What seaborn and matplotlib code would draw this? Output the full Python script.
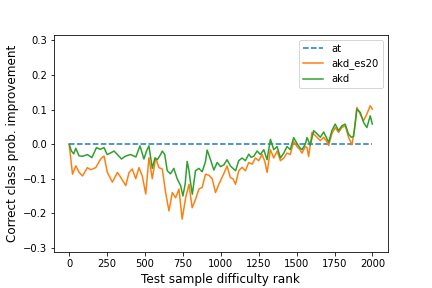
import numpy as np
import matplotlib
matplotlib.use("Agg")
import matplotlib.pyplot as plt
import seaborn as sns
import pandas as pd

# values (rank -> improvement)
rank_akd = [0, 15, 30, 44, 65, 90, 120, 150, 180, 205, 230, 250, 275, 296, 318,
            345, 370, 405, 440, 467, 493, 510, 526, 548, 565, 581, 603, 614, 630,
            647, 668, 690, 712, 735, 750, 765, 778, 790, 800, 812, 833, 855, 877,
            899, 910, 932, 954, 976, 998, 1020, 1041, 1063, 1080, 1097, 1118, 1140,
            1162, 1184, 1200, 1217, 1239, 1261, 1283, 1305, 1327, 1349, 1371, 1393,
            1415, 1436, 1458, 1480, 1502, 1520, 1535, 1557, 1568, 1590, 1612, 1634,
            1656, 1678, 1695, 1711, 1732, 1754, 1776, 1798, 1820, 1842, 1860, 1875,
            1886, 1897, 1919, 1941, 1963, 1985, 1999]
akd = [0.0, -0.02, -0.028, -0.012, -0.034, -0.035, -0.03, -0.039, -0.01, -0.015,
       -0.01, -0.03, -0.025, -0.02, -0.03, -0.043, -0.035, -0.03, -0.037, -0.005,
       -0.043, -0.02, -0.005, -0.07, -0.04, -0.045, -0.03, -0.02, -0.03, -0.077,
       -0.086, -0.07, -0.1, -0.12, -0.15, -0.115, -0.05, -0.077, -0.11, -0.145,
       -0.077, -0.07, -0.08, -0.05, -0.017, -0.045, -0.075, -0.053, -0.065, -0.06,
       -0.045, -0.063, -0.07, -0.077, -0.048, -0.04, -0.048, -0.029, -0.038, -0.035,
       -0.02, -0.03, -0.016, -0.045, 0.014, -0.016, -0.007, -0.04, -0.026, -0.007,
       -0.016, 0.019, 0.002, -0.01, -0.016, 0.0, 0.019, -0.003, 0.039, 0.03, 0.02,
       0.035, 0.02, 0.005, 0.039, 0.058, 0.039, 0.053, 0.058, 0.029, 0.02, 0.022,
       0.06, 0.101, 0.092, 0.063, 0.048, 0.082, 0.058]

rank_es20 = [0, 11, 22, 44, 66, 88, 120, 143, 175, 208, 230, 252, 285, 318, 340,
             373, 395, 416, 439, 460, 482, 505, 526, 548, 570, 592, 614, 636, 658,
             680, 702, 724, 745, 768, 790, 811, 833, 855, 877, 899, 921, 943, 965,
             987, 1020, 1041, 1063, 1080, 1097, 1118, 1140, 1162, 1184, 1206, 1228,
             1250, 1272, 1290, 1305, 1327, 1349, 1371, 1393, 1415, 1436, 1458, 1480,
             1502, 1520, 1535, 1557, 1568, 1579, 1601, 1634, 1656, 1678, 1695, 1711,
             1732, 1754, 1776, 1798, 1820, 1842, 1864, 1880, 1897, 1919, 1941, 1963,
             1985, 1999]
akd_es20 = [0.0, -0.043, -0.087, -0.063, -0.082, -0.092, -0.068, -0.074, -0.068,
            -0.043, -0.034, -0.082, -0.11, -0.082, -0.096, -0.12, -0.082, -0.072,
            -0.1, -0.068, -0.092, -0.144, -0.039, -0.1, -0.04, -0.068, -0.072, -0.14,
            -0.193, -0.14, -0.155, -0.13, -0.217, -0.155, -0.116, -0.184, -0.16,
            -0.13, -0.125, -0.087, -0.09, -0.1, -0.14, -0.116, -0.085, -0.063, -0.097,
            -0.1, -0.116, -0.077, -0.067, -0.077, -0.053, -0.058, -0.04, -0.048,
            -0.03, -0.05, -0.082, -0.016, -0.04, -0.02, -0.048, -0.04, -0.026, -0.03,
            0.008, -0.007, -0.015, -0.026, -0.007, -0.01, -0.036, 0.034, 0.02, 0.01,
            0.02, 0.01, -0.004, 0.03, 0.048, 0.034, 0.048, 0.053, 0.02, -0.002, 0.04,
            0.106, 0.087, 0.068, 0.087, 0.111, 0.101]

rank_at = [0, 1999]
at = [0.0, 0.0]

fig, ax = plt.subplots(figsize=(6, 4), dpi=72)
fig.subplots_adjust(left=0.125, right=0.897, top=0.88, bottom=0.125)

sns.lineplot(x=rank_at, y=at, ax=ax, color='C0', linestyle='--', label='at')
sns.lineplot(x=rank_es20, y=akd_es20, ax=ax, color='C1', label='akd_es20')
sns.lineplot(x=rank_akd, y=akd, ax=ax, color='C2', label='akd')

ax.set_ylim(-0.312, 0.317)
ax.set_yticks([-0.3, -0.2, -0.1, 0.0, 0.1, 0.2, 0.3])
ax.set_xticks([0, 250, 500, 750, 1000, 1250, 1500, 1750, 2000])
ax.set_xlabel('Test sample difficulty rank', fontsize=12)
ax.set_ylabel('Correct class prob. improvement', fontsize=12)
ax.legend(loc='upper right')

fig.savefig('out.png', dpi=72)
